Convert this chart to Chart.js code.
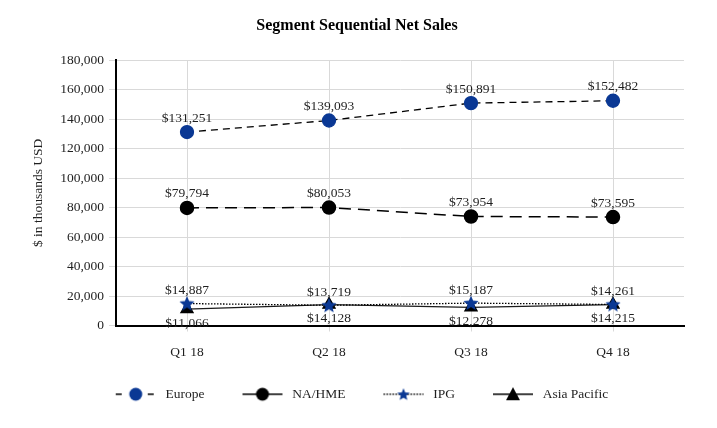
<!DOCTYPE html>
<html>
<head>
<meta charset="utf-8">
<script src="https://cdn.jsdelivr.net/npm/chart.js@4"></script>
<style>
  html, body { margin: 0; padding: 0; background: #fff; }
  #wrap { width: 717px; height: 428px; }
</style>
</head>
<body>
<div id="wrap"><canvas id="sales-chart"></canvas></div>
<script>
// quarters and segment net sales ($ thousands)
const quarters = ['Q1 18', 'Q2 18', 'Q3 18', 'Q4 18'];
const europe = [131251, 139093, 150891, 152482];
const naHme = [79794, 80053, 73954, 73595];
const ipg = [14887, 13719, 15187, 14261];
const asiaPacific = [11066, 14128, 12278, 14215];
const yTicks = [0, 20000, 40000, 60000, 80000, 100000, 120000, 140000, 160000, 180000];

const BLUE = '#0a3894';
const SERIF = "'Liberation Serif', 'Times New Roman', serif";

/* filled 5 point star, used as the IPG marker */
function starPath(ctx, cx, cy, r) {
  ctx.beginPath();
  for (let i = 0; i < 10; i++) {
    const rad = i % 2 === 0 ? r : r * 0.45;
    const a = -Math.PI / 2 + (i * Math.PI) / 5;
    ctx.lineTo(cx + rad * Math.cos(a), cy + rad * Math.sin(a));
  }
  ctx.closePath();
}

function makeStar(r) {
  const c = document.createElement('canvas');
  c.width = c.height = r * 2 + 2;
  const ctx = c.getContext('2d');
  ctx.fillStyle = BLUE;
  starPath(ctx, r + 1, r + 1.5, r);
  ctx.fill();
  return c;
}

/* legend symbol: line sample with the marker in the middle,
   some blank room on the left keeps the items apart */
const ICON_W = 53;
const ICON_L = 10;
function makeLegendIcon(dash, color, marker) {
  const c = document.createElement('canvas');
  c.width = ICON_W;
  c.height = 16;
  const ctx = c.getContext('2d');
  const mid = ICON_L + 20;
  ctx.strokeStyle = '#000';
  ctx.lineWidth = 1.5;
  ctx.setLineDash(dash);
  ctx.beginPath();
  ctx.moveTo(ICON_L, 8);
  ctx.lineTo(ICON_L + 40, 8);
  ctx.stroke();
  ctx.setLineDash([]);
  ctx.fillStyle = color;
  if (marker === 'circle') {
    ctx.beginPath();
    ctx.arc(mid, 8, 6.5, 0, Math.PI * 2);
    ctx.fill();
  } else if (marker === 'star') {
    starPath(ctx, mid, 8.5, 6.5);
    ctx.fill();
  } else {
    ctx.beginPath();
    ctx.moveTo(mid, 1);
    ctx.lineTo(mid + 7, 14);
    ctx.lineTo(mid - 7, 14);
    ctx.closePath();
    ctx.fill();
  }
  return c;
}

const legendIcons = [
  makeLegendIcon([6, 10], BLUE, 'circle'),
  makeLegendIcon([], '#000', 'circle'),
  makeLegendIcon([1.5, 1.5], BLUE, 'star'),
  makeLegendIcon([], '#000', 'triangle'),
];

/* draws the $ value next to each point */
const valueLabels = {
  id: 'valueLabels',
  afterDatasetsDraw(chart) {
    const ctx = chart.ctx;
    ctx.save();
    ctx.font = '13.5px ' + SERIF;
    ctx.fillStyle = '#1f1f1f';
    ctx.textAlign = 'center';
    ctx.textBaseline = 'middle';
    chart.data.datasets.forEach((ds, i) => {
      const meta = chart.getDatasetMeta(i);
      meta.data.forEach((pt, j) => {
        const txt = '$' + ds.data[j].toLocaleString('en-US');
        ctx.fillText(txt, pt.x, pt.y + ds.labelShift);
      });
    });
    ctx.restore();
  },
};

const data = {
  labels: quarters,
  datasets: [
    {
      label: 'Europe',
      data: europe,
      borderColor: '#000',
      borderWidth: 1.3,
      borderDash: [7, 5],
      pointStyle: 'circle',
      pointRadius: 6.5,
      pointHoverRadius: 6.5,
      pointBackgroundColor: BLUE,
      pointBorderColor: BLUE,
      labelShift: -14,
    },
    {
      label: 'NA/HME',
      data: naHme,
      borderColor: '#000',
      borderWidth: 1.5,
      borderDash: [12, 7],
      pointStyle: 'circle',
      pointRadius: 6.5,
      pointHoverRadius: 6.5,
      pointBackgroundColor: '#000',
      pointBorderColor: '#000',
      labelShift: -14,
    },
    {
      label: 'IPG',
      data: ipg,
      borderColor: '#000',
      borderWidth: 1.3,
      borderDash: [1.5, 1.5],
      pointStyle: makeStar(8),
      pointBackgroundColor: BLUE,
      labelShift: -13,
    },
    {
      label: 'Asia Pacific',
      data: asiaPacific,
      borderColor: '#1a1a1a',
      borderWidth: 1.3,
      pointStyle: 'triangle',
      pointRadius: 7,
      pointHoverRadius: 7,
      pointBackgroundColor: '#000',
      pointBorderColor: '#000',
      labelShift: 14,
    },
  ],
};

const config = {
  type: 'line',
  data,
  plugins: [valueLabels],
  options: {
    responsive: true,
    maintainAspectRatio: false,
    animation: false,
    layout: {
      padding: { top: 16, right: 33, bottom: 17, left: 30 },
    },
    plugins: {
      title: {
        display: true,
        text: 'Segment Sequential Net Sales',
        color: '#000',
        font: { family: SERIF, size: 16, weight: 'bold', lineHeight: 1.2 },
        padding: { top: 0, bottom: 25 },
      },
      legend: {
        position: 'bottom',
        labels: {
          usePointStyle: true,
          pointStyleWidth: ICON_W,
          boxHeight: 13,
          padding: 28,
          color: '#1f1f1f',
          font: { family: SERIF, size: 13.5 },
          generateLabels(chart) {
            return chart.data.datasets.map((ds, i) => ({
              text: ds.label,
              pointStyle: legendIcons[i],
              datasetIndex: i,
              fontColor: '#1f1f1f',
              lineWidth: 0,
              strokeStyle: 'transparent',
              fillStyle: 'transparent',
            }));
          },
        },
      },
      tooltip: { enabled: false },
    },
    scales: {
      x: {
        offset: true,
        afterFit: (s) => { s.height = 34; },
        border: { color: '#000', width: 2 },
        grid: { color: '#d9d9d9', offset: false, tickLength: 6 },
        ticks: { color: '#1f1f1f', padding: 13, font: { family: SERIF, size: 13.5 } },
      },
      y: {
        min: 0,
        max: 180000,
        afterFit: (s) => { s.width = 86; },
        afterBuildTicks: (s) => { s.ticks = yTicks.map((v) => ({ value: v })); },
        border: { color: '#000', width: 2 },
        grid: { color: '#d9d9d9', tickLength: 7 },
        ticks: {
          color: '#1f1f1f',
          padding: 5,
          font: { family: SERIF, size: 13.5 },
          callback: (v) => v.toLocaleString('en-US'),
        },
        title: {
          display: true,
          text: '$ in thousands USD',
          color: '#1f1f1f',
          font: { family: SERIF, size: 13.5 },
          padding: { top: 0, bottom: 4 },
        },
      },
    },
  },
};

new Chart(document.getElementById('sales-chart'), config);
</script>
</body>
</html>
